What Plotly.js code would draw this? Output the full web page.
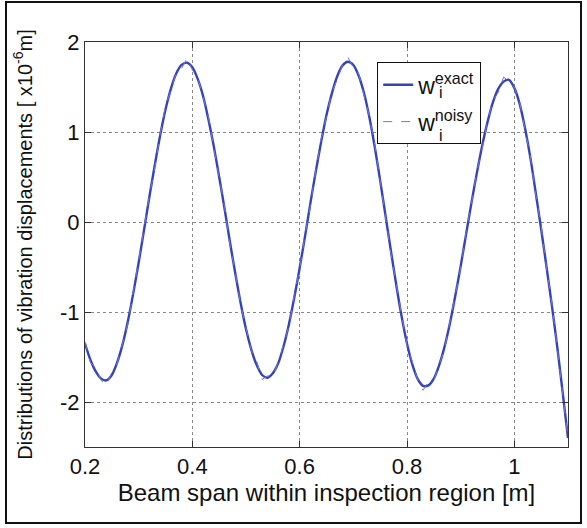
<!DOCTYPE html>
<html>
<head>
<meta charset="utf-8">
<script src="https://cdn.plot.ly/plotly-3.0.1.min.js"></script>
<style>
  html, body { margin: 0; padding: 0; background: #fff; }
  #wrap { position: relative; width: 587px; height: 528px; }
  #chart { position: absolute; left: 0; top: 0; width: 587px; height: 528px; }
  #frame { position: absolute; left: 5px; top: 1px; width: 573px; height: 519px; border: 2px solid #111; pointer-events: none; }
</style>
</head>
<body>
<div id="wrap">
  <div id="chart"></div>
  <div id="frame"></div>
</div>
<script>
// Beam span positions [m]
var span = [0.20,0.21,0.22,0.23,0.24,0.25,0.26,0.27,0.28,0.29,
            0.30,0.31,0.32,0.33,0.34,0.35,0.36,0.37,0.38,0.39,
            0.40,0.41,0.42,0.43,0.44,0.45,0.46,0.47,0.48,0.49,
            0.50,0.51,0.52,0.53,0.54,0.55,0.56,0.57,0.58,0.59,
            0.60,0.61,0.62,0.63,0.64,0.65,0.66,0.67,0.68,0.69,
            0.70,0.71,0.72,0.73,0.74,0.75,0.76,0.77,0.78,0.79,
            0.80,0.81,0.82,0.83,0.84,0.85,0.86,0.87,0.88,0.89,
            0.90,0.91,0.92,0.93,0.94,0.95,0.96,0.97,0.98,0.99,
            1.00,1.01,1.02,1.03,1.04,1.05,1.06,1.07,1.08,1.09,1.10];

// Exact displacement distribution [x1e-6 m]
var wExact = [-1.35,-1.53,-1.66,-1.74,-1.76,-1.70,-1.56,-1.36,-1.10,-0.79,
              -0.45,-0.09,0.28,0.63,0.96,1.25,1.48,1.65,1.745,1.77,
              1.72,1.59,1.40,1.14,0.84,0.50,0.15,-0.22,-0.57,-0.90,
              -1.19,-1.42,-1.59,-1.70,-1.73,-1.68,-1.57,-1.38,-1.135,-0.84,
              -0.51,-0.16,0.21,0.56,0.89,1.19,1.43,1.62,1.74,1.78,
              1.745,1.625,1.43,1.16,0.83,0.46,0.07,-0.32,-0.70,-1.05,
              -1.35,-1.585,-1.745,-1.82,-1.815,-1.74,-1.59,-1.385,-1.125,-0.82,
              -0.49,-0.14,0.21,0.54,0.845,1.11,1.33,1.48,1.56,1.58,
              1.49,1.31,1.04,0.71,0.32,-0.08,-0.50,-0.93,-1.39,-1.89,-2.40];

// Noisy displacement distribution [x1e-6 m]
var wNoisy = [-1.33,-1.56,-1.62,-1.76,-1.81,-1.67,-1.57,-1.34,-1.13,-0.78,
              -0.42,-0.11,0.29,0.60,0.98,1.29,1.46,1.66,1.705,1.82,
              1.69,1.61,1.39,1.17,0.82,0.51,0.17,-0.25,-0.56,-0.92,
              -1.16,-1.43,-1.55,-1.75,-1.71,-1.71,-1.56,-1.36,-1.155,-0.81,
              -0.52,-0.14,0.18,0.57,0.92,1.17,1.45,1.58,1.75,1.83,
              1.715,1.645,1.41,1.17,0.86,0.45,0.09,-0.35,-0.69,-1.03,
              -1.37,-1.555,-1.755,-1.87,-1.775,-1.76,-1.58,-1.415,-1.105,-0.81,
              -0.51,-0.11,0.20,0.56,0.815,1.12,1.35,1.44,1.61,1.56,
              1.50,1.33,1.01,0.72,0.30,-0.05,-0.51,-0.91,-1.40,-1.88,-2.40];

var xTicks = [0.2, 0.4, 0.6, 0.8, 1.0];
var xTickText = ['0.2', '0.4', '0.6', '0.8', '1'];
var yTicks = [-2, -1, 0, 1, 2];
var yTickText = ['-2', '-1', '0', '1', '2'];

var FONT = 'Liberation Sans, Arial, sans-serif';

var traces = [
  {
    x: span, y: wExact, type: 'scatter', mode: 'lines',
    name: 'w<sup>exact</sup>', legendgroup: 'a',
    line: { color: '#3444b8', width: 2.4, shape: 'spline', smoothing: 0.8 }
  },
  {
    x: span, y: wNoisy, type: 'scatter', mode: 'lines',
    name: 'w<sup>noisy</sup>', legendgroup: 'b',
    line: { color: '#7a72d8', width: 1, dash: 'dash' }
  }
];

var axisCommon = {
  showline: true, linecolor: '#333', linewidth: 1, mirror: 'ticks',
  ticks: 'inside', ticklen: 6, tickcolor: '#333',
  showgrid: true, gridcolor: '#888', gridwidth: 1, griddash: 'dot',
  zeroline: false, tickfont: { family: FONT, size: 22, color: '#111' }
};

var layout = {
  width: 587, height: 528,
  margin: { l: 85, r: 19, t: 42, b: 81 },
  paper_bgcolor: '#fff', plot_bgcolor: '#fff',
  font: { family: FONT, color: '#111' },
  showlegend: true,
  legend: {
    x: 0.605, y: 0.95, xanchor: 'left', yanchor: 'top',
    bordercolor: '#111', borderwidth: 1, bgcolor: '#fff',
    font: { family: FONT, size: 23, color: '#111' },
    tracegroupgap: 4, itemwidth: 30
  },
  xaxis: Object.assign({}, axisCommon, {
    range: [0.2, 1.1], tickmode: 'array', tickvals: xTicks, ticktext: xTickText,
    title: { text: 'Beam span within inspection region [m]', font: { family: FONT, size: 24, color: '#111' }, standoff: 0 }
  }),
  yaxis: Object.assign({}, axisCommon, {
    range: [-2.5, 2], tickmode: 'array', tickvals: yTicks, ticktext: yTickText,
    title: { text: 'Distributions of vibration displacements [ x10<sup>-6</sup>m]', font: { family: FONT, size: 20, color: '#111' }, standoff: 22 }
  }),
  annotations: [
    { xref: 'paper', yref: 'paper', x: 0.728, y: 0.876, xanchor: 'left', yanchor: 'middle',
      text: 'i', showarrow: false, font: { family: FONT, size: 16, color: '#111' } },
    { xref: 'paper', yref: 'paper', x: 0.728, y: 0.768, xanchor: 'left', yanchor: 'middle',
      text: 'i', showarrow: false, font: { family: FONT, size: 16, color: '#111' } }
  ]
};

Plotly.newPlot('chart', traces, layout, { displayModeBar: false, staticPlot: true });
</script>
</body>
</html>
